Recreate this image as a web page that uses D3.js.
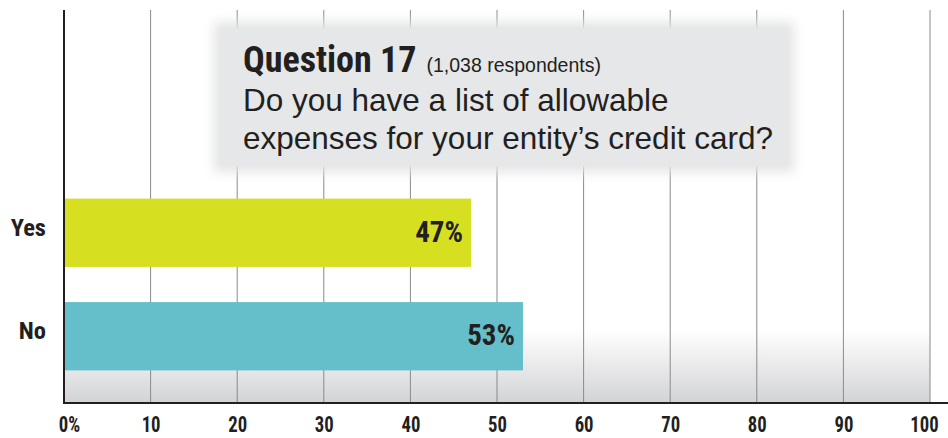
<!DOCTYPE html>
<html><head><meta charset="utf-8">
<script src="https://cdn.jsdelivr.net/npm/d3@7"></script>
<style>
html,body{margin:0;padding:0;background:#fff;}
svg{display:block;}
.cond{font-family:"Liberation Sans Narrow","Roboto Condensed","Arial Narrow",sans-serif;font-weight:bold;}
.reg{font-family:"Liberation Sans",Arial,Helvetica,sans-serif;}
</style>
</head><body>
<script>
const categories = ["Yes", "No"];
const values = [47, 53];
const valueLabels = ["47%", "53%"];
const tickValues = [0, 10, 20, 30, 40, 50, 60, 70, 80, 90, 100];
const tickLabels = ["0%", "10", "20", "30", "40", "50", "60", "70", "80", "90", "100"];
const barColors = ["#d7df21", "#64bfca"];
const titleBold = "Question 17";
const titleNote = "(1,038 respondents)";
const questionLines = ["Do you have a list of allowable", "expenses for your entity\u2019s credit card?"];

const W = 948, H = 438;
const mLeft = 64, mRight = 930, mTop = 10, mBottom = 403;

const svg = d3.select("body").append("svg").attr("width", W).attr("height", H);
const defs = svg.append("defs");
const grad = defs.append("linearGradient").attr("id", "bg").attr("x1", 0).attr("y1", 0).attr("x2", 0).attr("y2", 1);
grad.append("stop").attr("offset", 0).attr("stop-color", "#ffffff");
grad.append("stop").attr("offset", 1).attr("stop-color", "#d2d3d5");
const blur = defs.append("filter").attr("id", "blur").attr("x", -0.1).attr("y", -0.2).attr("width", 1.2).attr("height", 1.4);
blur.append("feGaussianBlur").attr("stdDeviation", 6);

const x = d3.scaleLinear().domain([0, 100]).range([mLeft, mRight]);
const y = d3.scaleBand().domain(categories).range([181, 388]).paddingInner(0.34).paddingOuter(0.17);

// bottom gradient
svg.append("rect").attr("x", mLeft).attr("y", 330).attr("width", mRight - mLeft).attr("height", mBottom - 330).attr("fill", "url(#bg)");

// gridlines
svg.append("g").selectAll("line").data(tickValues.slice(1)).join("line")
  .attr("x1", d => x(d)).attr("x2", d => x(d)).attr("y1", mTop).attr("y2", mBottom)
  .attr("stroke", "#8a8a8a").attr("stroke-width", 1);

// title box
svg.append("rect").attr("x", 214).attr("y", 22).attr("width", 580).attr("height", 150)
  .attr("fill", "#e3e4e5").attr("filter", "url(#blur)");
svg.append("rect").attr("x", 222).attr("y", 28).attr("width", 564).attr("height", 138)
  .attr("fill", "#e6e7e8");
const t1 = svg.append("text").attr("x", 243).attr("y", 72);
t1.append("tspan").attr("class", "cond").attr("font-size", 36).attr("fill", "#231f20").text(titleBold);
t1.append("tspan").attr("class", "reg").attr("font-size", 19.5).attr("fill", "#231f20").attr("dx", 10).text(titleNote);
svg.append("g").selectAll("text").data(questionLines).join("text")
  .attr("class", "reg").attr("x", 243).attr("y", (d, i) => 111 + i * 37.5)
  .attr("font-size", 31.5).attr("fill", "#231f20").text(d => d);

// bars
svg.append("g").selectAll("rect").data(values).join("rect")
  .attr("x", x(0)).attr("y", (d, i) => y(categories[i]))
  .attr("width", d => x(d) - x(0)).attr("height", y.bandwidth())
  .attr("fill", (d, i) => barColors[i]);

// value labels
svg.append("g").selectAll("text").data(values).join("text")
  .attr("class", "cond").attr("x", d => x(d) - 8)
  .attr("y", (d, i) => y(categories[i]) + y.bandwidth() / 2 + 9)
  .attr("text-anchor", "end").attr("font-size", 29).attr("fill", "#231f20")
  .text((d, i) => valueLabels[i]);

// category labels
svg.append("g").selectAll("text").data(categories).join("text")
  .attr("class", "cond").attr("x", 46)
  .attr("y", d => y(d) + y.bandwidth() / 2 + 3)
  .attr("text-anchor", "end").attr("font-size", 24.5).attr("fill", "#231f20")
  .text(d => d);

// axes lines
svg.append("line").attr("x1", mLeft).attr("x2", mLeft).attr("y1", mTop).attr("y2", mBottom + 1)
  .attr("stroke", "#231f20").attr("stroke-width", 2);
svg.append("line").attr("x1", mLeft - 1).attr("x2", W).attr("y1", mBottom).attr("y2", mBottom)
  .attr("stroke", "#231f20").attr("stroke-width", 2);

// x tick labels
const xAxis = d3.axisBottom(x).tickValues(tickValues).tickSize(0).tickFormat((d, i) => tickLabels[i]);
const ax = svg.append("g").attr("transform", `translate(0,${mBottom + 10})`).call(xAxis);
ax.select(".domain").remove();
ax.selectAll("text").attr("class", "cond").attr("font-size", 22).attr("fill", "#231f20")
  .attr("transform", (d, i) => `translate(${i === 0 ? 5 : (i === 10 ? -6 : 0)},0) scale(0.85,1)`);
</script>
</body></html>
